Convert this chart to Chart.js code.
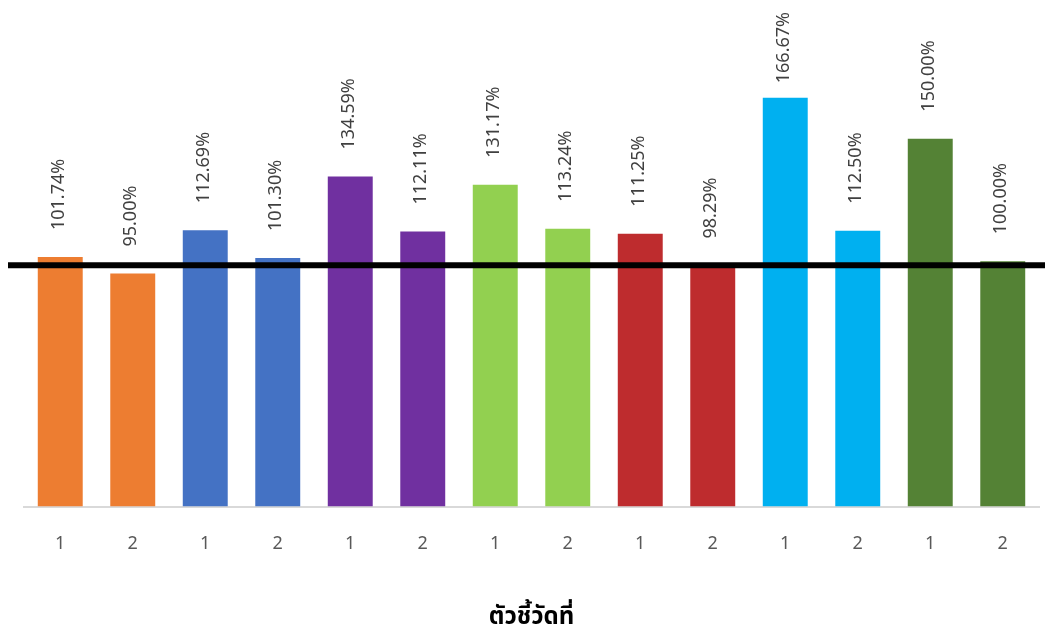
<!DOCTYPE html>
<html>
<head>
<meta charset="utf-8">
<script src="https://cdn.jsdelivr.net/npm/chart.js@4"></script>
<style>
  html, body { margin: 0; padding: 0; background: #fff; }
  #wrap { width: 1045px; height: 626px; }
</style>
</head>
<body>
<div id="wrap"><canvas id="chart"></canvas></div>
<script>
const categories = ['1', '2', '1', '2', '1', '2', '1', '2', '1', '2', '1', '2', '1', '2'];
const values = [101.74, 95.00, 112.69, 101.30, 134.59, 112.11, 131.17, 113.24, 111.25, 98.29, 166.67, 112.50, 150.00, 100.00];
const barColors = ['#ED7D31', '#ED7D31', '#4472C4', '#4472C4', '#7030A0', '#7030A0', '#92D050', '#92D050',
  '#BE2C2E', '#BE2C2E', '#00B0F0', '#00B0F0', '#548235', '#548235'];
const target = 98.4;
const axisTitle = 'ตัวชี้วัดที่';

const fontFamily = '"Noto Sans Thai", "Open Sans", "Noto Sans", sans-serif';

// labels standing on top of each bar, turned up; kept inside the picture
const barLabels = {
  id: 'barLabels',
  afterDatasetsDraw(chart) {
    const ctx = chart.ctx;
    const meta = chart.getDatasetMeta(0);
    ctx.save();
    ctx.fillStyle = '#404040';
    ctx.font = '18px ' + fontFamily;
    ctx.textAlign = 'left';
    ctx.textBaseline = 'middle';
    meta.data.forEach((bar, i) => {
      const text = values[i].toFixed(2) + '%';
      const w = ctx.measureText(text).width;
      let start = bar.y - 27;
      if (start - w < 12) start = 12 + w;
      ctx.save();
      ctx.translate(bar.x, start);
      ctx.rotate(-Math.PI / 2);
      ctx.fillText(text, 0, 0);
      ctx.restore();
    });
    ctx.restore();
  }
};

// thick black target line across the whole picture
const targetLine = {
  id: 'targetLine',
  afterDatasetsDraw(chart) {
    const ctx = chart.ctx;
    const y = chart.scales.y.getPixelForValue(target);
    ctx.save();
    ctx.strokeStyle = '#000';
    ctx.lineWidth = 6;
    ctx.beginPath();
    ctx.moveTo(8, y);
    ctx.lineTo(chart.width, y);
    ctx.stroke();
    ctx.restore();
  }
};

new Chart(document.getElementById('chart'), {
  type: 'bar',
  data: {
    labels: categories,
    datasets: [{
      data: values,
      backgroundColor: barColors,
      borderWidth: 0,
      categoryPercentage: 1,
      barPercentage: 0.62
    }]
  },
  options: {
    responsive: true,
    maintainAspectRatio: false,
    animation: false,
    layout: { padding: { left: 24, right: 6, top: 16, bottom: -8 } },
    plugins: {
      legend: { display: false },
      tooltip: { enabled: false }
    },
    scales: {
      y: { display: false, min: 0, max: 200 },
      x: {
        grid: { display: false, drawTicks: false },
        border: { display: true, color: '#D9D9D9', width: 2 },
        ticks: {
          color: '#595959',
          padding: 28,
          font: { size: 18, family: fontFamily }
        },
        title: {
          display: true,
          text: axisTitle,
          color: '#000',
          padding: { top: 21, bottom: 0 },
          font: { size: 24, weight: 'bold', family: fontFamily }
        }
      }
    }
  },
  plugins: [targetLine, barLabels]
});
</script>
</body>
</html>
